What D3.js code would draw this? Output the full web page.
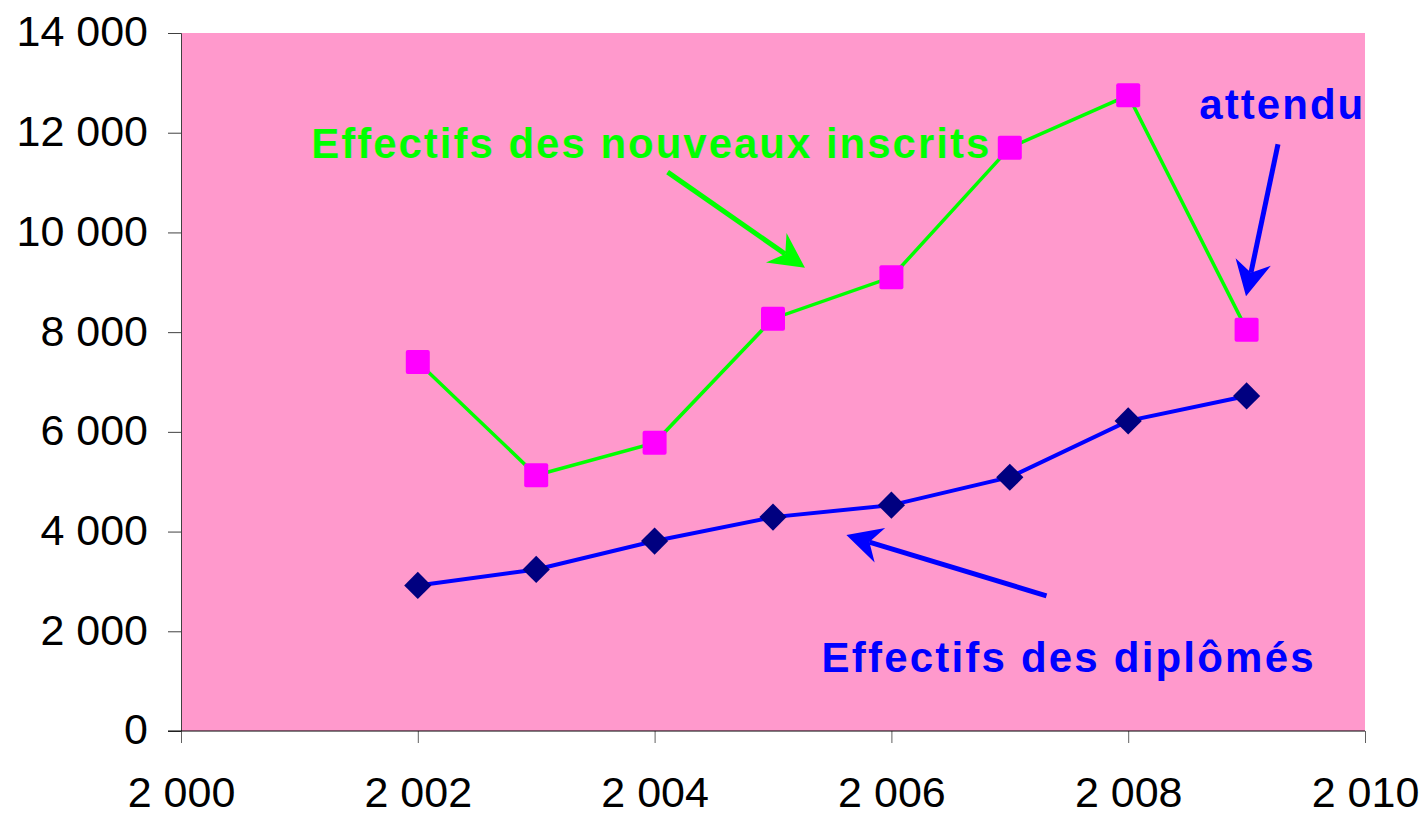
<!DOCTYPE html>
<html>
<head>
<meta charset="utf-8">
<script src="https://cdn.jsdelivr.net/npm/d3@7"></script>
<style>
  html, body { margin: 0; padding: 0; background: #fff; }
  svg { display: block; font-family: "Liberation Sans", Arial, sans-serif; }
  .axis text { font-size: 43px; fill: #000; }
  .note { font-size: 42px; font-weight: bold; }
</style>
</head>
<body>
<svg id="chart" width="1427" height="814"></svg>
<script>
// data
const years = [2002, 2003, 2004, 2005, 2006, 2007, 2008, 2009];
const nouveauxInscrits = [7400, 5130, 5780, 8270, 9100, 11700, 12750, 8050];
const diplomes = [2920, 3240, 3810, 4290, 4530, 5090, 6220, 6720];
const xTicks = [2000, 2002, 2004, 2006, 2008, 2010];
const yTicks = [0, 2000, 4000, 6000, 8000, 10000, 12000, 14000];

// annotations, in data units (year, value)
const notes = [
  { text: 'Effectifs des nouveaux inscrits', x: 2001.10, y: 11500, color: '#00ff00', len: 678 },
  { text: 'attendu', x: 2008.60, y: 12280, color: '#0000ff', len: 164 },
  { text: 'Effectifs des diplômés', x: 2005.41, y: 1190, color: '#0000ff', len: 492 }
];
const arrows = [
  { from: [2004.11, 11210], to: [2005.27, 9290], color: '#00ff00' },
  { from: [2009.265, 11770], to: [2008.995, 8720], color: '#0000ff' },
  { from: [2007.31, 2710], to: [2005.62, 3930], color: '#0000ff' }
];

const svg = d3.select('#chart');
const margin = { left: 181, right: 62, top: 33, bottom: 83 };
const width = 1427 - margin.left - margin.right;
const height = 814 - margin.top - margin.bottom;

const x = d3.scaleLinear().domain([2000, 2010]).range([0, width]);
const y = d3.scaleLinear().domain([0, 14000]).range([height, 0]);

const fr = d3.formatLocale({ decimal: ',', thousands: ' ', grouping: [3], currency: ['', ' €'] });
const fmt = fr.format(',d');

const g = svg.append('g').attr('transform', `translate(${margin.left},${margin.top})`);

g.append('rect')
  .attr('width', width).attr('height', height)
  .attr('fill', '#ff99cc');

// axes
const yAxis = g.append('g').attr('class', 'axis')
  .call(d3.axisLeft(y).tickValues(yTicks).tickFormat(fmt).tickSize(13).tickPadding(20));
yAxis.select('.domain').attr('stroke', '#404040');
yAxis.selectAll('.tick line').attr('stroke', '#404040');
yAxis.selectAll('.tick text').attr('dy', '0.3em');

const xAxis = g.append('g').attr('class', 'axis')
  .attr('transform', `translate(0,${height})`)
  .call(d3.axisBottom(x).tickValues(xTicks).tickFormat(fmt).tickSize(12).tickSizeOuter(12));
xAxis.select('.domain').remove();
xAxis.append('line')
  .attr('x1', -13).attr('x2', width)
  .attr('stroke', '#000');
xAxis.selectAll('.tick line').attr('stroke', '#606060');
xAxis.selectAll('.tick text').attr('y', 76).attr('dy', 0);

// series
const line = d3.line().x((d, i) => x(years[i])).y(d => y(d));

g.append('path').datum(nouveauxInscrits)
  .attr('d', line).attr('fill', 'none')
  .attr('stroke', '#00ff00').attr('stroke-width', 3.5);

g.selectAll('.sq').data(nouveauxInscrits).join('rect')
  .attr('class', 'sq')
  .attr('x', (d, i) => x(years[i]) - 12)
  .attr('y', d => y(d) - 12)
  .attr('width', 24).attr('height', 24).attr('rx', 2)
  .attr('fill', '#ff00ff');

g.append('path').datum(diplomes)
  .attr('d', line).attr('fill', 'none')
  .attr('stroke', '#0000ff').attr('stroke-width', 4);

g.selectAll('.dm').data(diplomes).join('path')
  .attr('class', 'dm')
  .attr('d', d3.symbol(d3.symbolSquare, 370))
  .attr('transform', (d, i) => `translate(${x(years[i])},${y(d)}) rotate(45)`)
  .attr('fill', '#000080');

// arrows
function arrowPath(a) {
  const x0 = x(a.from[0]), y0 = y(a.from[1]);
  const x1 = x(a.to[0]), y1 = y(a.to[1]);
  const len = Math.hypot(x1 - x0, y1 - y0);
  const ux = (x1 - x0) / len, uy = (y1 - y0) / len;
  const nx = -uy, ny = ux;
  const hl = 35, hw = 18, notch = 24;
  const p = (b, s) => [x1 - ux * b + nx * s, y1 - uy * b + ny * s];
  return { shaft: [[x0, y0], p(notch, 0)], head: [[x1, y1], p(hl, hw), p(notch, 0), p(hl, -hw)] };
}

arrows.forEach(a => {
  const ap = arrowPath(a);
  g.append('path')
    .attr('d', d3.line()(ap.shaft))
    .attr('stroke', a.color).attr('stroke-width', 5).attr('fill', 'none');
  g.append('path')
    .attr('d', d3.line()(ap.head) + 'Z')
    .attr('fill', a.color);
});

// labels
g.selectAll('.note').data(notes).join('text')
  .attr('class', 'note')
  .attr('x', d => x(d.x))
  .attr('y', d => y(d.y))
  .attr('fill', d => d.color)
  .attr('textLength', d => d.len)
  .attr('lengthAdjust', 'spacing')
  .text(d => d.text);
</script>
</body>
</html>
